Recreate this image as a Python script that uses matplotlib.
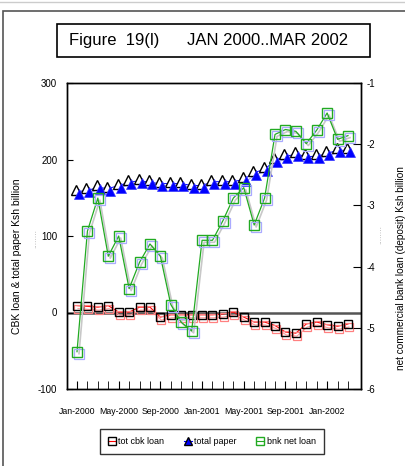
import matplotlib
matplotlib.use("Agg")
import matplotlib.pyplot as plt
from matplotlib.lines import Line2D
from matplotlib.patches import Rectangle
from matplotlib.transforms import offset_copy

plt.rcParams['font.family'] = ['Liberation Sans', 'DejaVu Sans']
plt.rcParams['axes.unicode_minus'] = False

# months Jan-2000 .. Mar-2002
months = ['Jan-2000', 'Feb-2000', 'Mar-2000', 'Apr-2000', 'May-2000', 'Jun-2000',
          'Jul-2000', 'Aug-2000', 'Sep-2000', 'Oct-2000', 'Nov-2000', 'Dec-2000',
          'Jan-2001', 'Feb-2001', 'Mar-2001', 'Apr-2001', 'May-2001', 'Jun-2001',
          'Jul-2001', 'Aug-2001', 'Sep-2001', 'Oct-2001', 'Nov-2001', 'Dec-2001',
          'Jan-2002', 'Feb-2002', 'Mar-2002']

# left axis, Ksh billion
tot_cbk_loan = [9, 8, 7, 9, 0.5, 0.5, 7, 7, -6, -3, -3, -3, -3, -3, -2, 0.5,
                -6, -12.5, -12.5, -17, -25.5, -27, -15, -12.5, -16, -18, -15]
total_paper = [158, 159.5, 163.5, 162, 166, 170, 172.5, 170, 168.5, 168.5, 168.5, 166,
               166, 171, 171, 171, 174, 183, 187, 199, 204, 207, 204, 204, 208, 212, 212]
# right axis, Ksh billion
bnk_net_loan = [-5.39, -3.42, -2.88, -3.83, -3.50, -4.36, -3.93, -3.63, -3.83, -4.62,
                -4.91, -5.05, -3.57, -3.57, -3.25, -2.88, -2.71, -3.32, -2.88, -1.84,
                -1.76, -1.79, -1.99, -1.77, -1.49, -1.92, -1.86]

x = list(range(len(months)))
label_idx = [0, 4, 8, 12, 16, 20, 24]

W, H = 406, 466
fig = plt.figure(figsize=(W / 100, H / 100), dpi=100)

# outer frame (right and bottom edges run past the picture)
fig.add_artist(Rectangle((3 / W, -10 / H), 420 / W, 465 / H, transform=fig.transFigure,
                         fill=False, edgecolor='#555555', linewidth=1.2))
fig.add_artist(Line2D([0, 1], [1 - 2 / H, 1 - 2 / H], transform=fig.transFigure,
                      color='#cccccc', linewidth=1))

# title box
fig.add_artist(Rectangle((57 / W, 1 - 57 / H), 313 / W, 33 / H, transform=fig.transFigure,
                         fill=False, edgecolor='black', linewidth=1.2))
fig.text(209 / W, 1 - 41 / H, 'Figure  19(l)      JAN 2000..MAR 2002', fontsize=12,
         ha='center', va='center')

ax = fig.add_axes([67 / W, 1 - 389 / H, 294 / W, 306 / H])
ax2 = ax.twinx()

def sh(a, dx, dy):
    return offset_copy(a.transData, fig=fig, x=dx, y=dy, units='dots')

# tot cbk loan (red line, black squares with red shadow)
ax.plot(x, tot_cbk_loan, color='#ff9999', lw=0.8, transform=sh(ax, 1, -3))
ax.plot(x, tot_cbk_loan, color='red', lw=0.8)
ax.plot(x, tot_cbk_loan, ls='none', marker='s', ms=6, mfc='none', mec='#ff8080', mew=0.9,
        transform=sh(ax, 1, -3))
ax.plot(x, tot_cbk_loan, ls='none', marker='s', ms=5.5, mfc='none', mec='black', mew=1.0)

# total paper (blue line, blue triangles with black outline)
ax.plot(x, total_paper, color='#9999ff', lw=0.7, transform=sh(ax, 2, -2))
ax.plot(x, total_paper, color='blue', lw=0.7)
ax.plot(x, total_paper, ls='none', marker='^', ms=7, mfc='white', mec='black', mew=1.0,
        transform=sh(ax, -1, 2))
ax.plot(x, total_paper, ls='none', marker='^', ms=7, mfc='blue', mec='#3333ff', mew=0.5,
        transform=sh(ax, 2, -2))

# zero line
ax.axhline(0, color='#555555', lw=1.8, zorder=0)

# bnk net loan on right axis (green)
ax2.plot(x, bnk_net_loan, color='#c8c8c8', lw=1.2, transform=sh(ax2, 2, -2))
ax2.plot(x, bnk_net_loan, color='#22aa22', lw=0.9)
ax2.plot(x, bnk_net_loan, ls='none', marker='s', ms=7, mfc='none', mec='#aaaaff', mew=0.9,
         transform=sh(ax2, 2, -2))
ax2.plot(x, bnk_net_loan, ls='none', marker='s', ms=7, mfc='none', mec='#22aa22', mew=1.0)

ax.set_xlim(-0.96, 27.25)
ax.set_ylim(-100, 300)
ax2.set_ylim(-6, -1)
ax.set_yticks([-100, 0, 100, 200, 300])
ax2.set_yticks([-6, -5, -4, -3, -2, -1])
ax.set_xticks(x, minor=True)
ax.set_xticks(label_idx)
ax.set_xticklabels([months[i] for i in label_idx])

ax.tick_params(axis='y', direction='in', length=4, labelsize=7, pad=7)
ax.tick_params(axis='x', which='both', direction='in', length=6, labelsize=6.3, pad=13)
ax2.tick_params(axis='y', direction='in', length=6, labelsize=7, pad=4)
for a in (ax, ax2):
    for s in a.spines.values():
        s.set_linewidth(1.0)

ax.set_ylabel('CBK loan & total paper Ksh billion', fontsize=7.5)
ax.yaxis.set_label_coords((22 - 67) / 294, (389 - 256) / 306)
ax2.set_ylabel('net commercial bank loan (deposit) Ksh billion', fontsize=7.2)
ax2.yaxis.set_label_coords((396 - 67) / 294, (389 - 268) / 306)
fig.text(35 / W, 1 - 238 / H, '........', rotation=90, fontsize=6, color='#aaaaaa',
         ha='center', va='center')
fig.text(380 / W, 1 - 235 / H, '........', rotation=90, fontsize=6, color='#aaaaaa',
         ha='center', va='center')

handles = [
    Line2D([], [], color='red', lw=0.8, marker='s', ms=5.5, mfc='none', mec='black'),
    Line2D([], [], color='blue', lw=0.8, marker='^', ms=6, mfc='blue', mec='black'),
    Line2D([], [], color='#22aa22', lw=0.8, marker='s', ms=6, mfc='none', mec='#22aa22'),
]
leg = fig.legend(handles, ['tot cbk loan', 'total paper', 'bnk net loan'], ncol=3,
                 loc='center', bbox_to_anchor=(212 / W, 1 - 441.5 / H), fontsize=6.5,
                 handlelength=0.8, handletextpad=0.3, columnspacing=2.2,
                 fancybox=False, borderpad=0.9)
leg.get_frame().set_edgecolor('black')
leg.get_frame().set_linewidth(1.0)

fig.savefig('out.png', dpi=100)
